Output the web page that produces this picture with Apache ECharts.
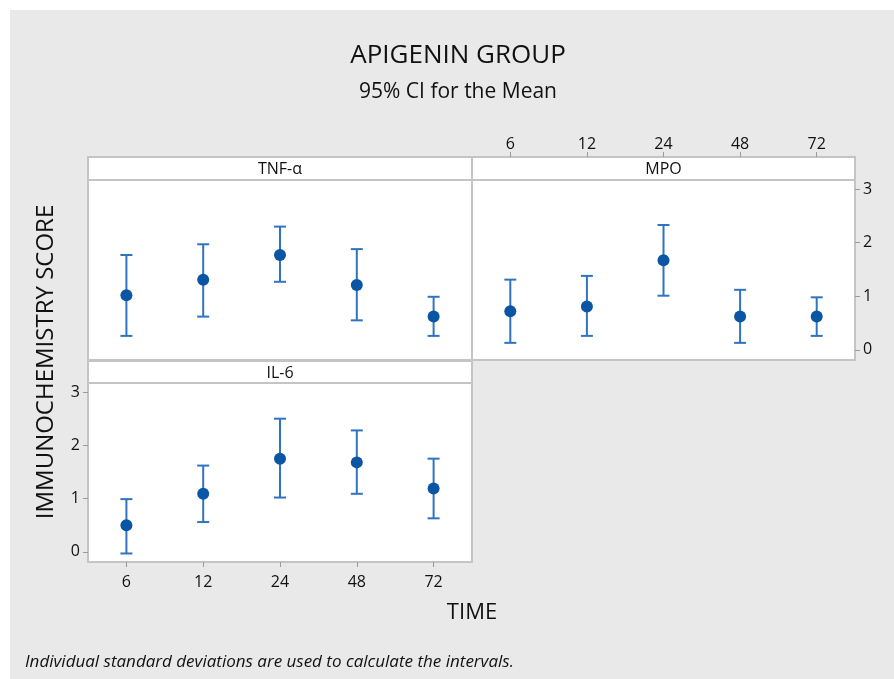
<!DOCTYPE html>
<html><head><meta charset="utf-8">
<script src="https://cdn.jsdelivr.net/npm/echarts@6/dist/echarts.min.js"></script>
<style>html,body{margin:0;padding:0;background:#fff}#c{width:894px;height:679px}</style>
</head><body><div id="c"></div>
<script>
const times = ['6','12','24','48','72'];
const yTicks = [0, 1, 2, 3];
const tnfMean = [1.02, 1.31, 1.77, 1.21, 0.62];
const tnfLow  = [0.26, 0.62, 1.27, 0.55, 0.26];
const tnfHigh = [1.77, 1.97, 2.30, 1.88, 0.99];
const mpoMean = [0.72, 0.81, 1.67, 0.62, 0.62];
const mpoLow  = [0.13, 0.26, 1.01, 0.13, 0.26];
const mpoHigh = [1.31, 1.38, 2.33, 1.12, 0.98];
const il6Mean = [0.50, 1.09, 1.75, 1.68, 1.19];
const il6Low  = [-0.03, 0.56, 1.02, 1.09, 0.63];
const il6High = [0.99, 1.62, 2.50, 2.28, 1.75];

const FONT = '"Open Sans", "Noto Sans", sans-serif';
const TXT = '#111';
const BAR = '#2f74c0';
const DOT = '#0b56a4';
const BORDER = '#c4c4c4';
const YMIN = -0.19, YMAX = 3.17;

function errRender(params, api) {
  const x = api.value(0), lo = api.value(1), hi = api.value(2);
  const p1 = api.coord([x, hi]), p2 = api.coord([x, lo]);
  const w = 6;
  const style = { stroke: BAR, lineWidth: 2, fill: null };
  return { type: 'group', children: [
    { type: 'line', shape: { x1: p1[0], y1: p1[1], x2: p2[0], y2: p2[1] }, style: style },
    { type: 'line', shape: { x1: p1[0] - w, y1: p1[1], x2: p1[0] + w, y2: p1[1] }, style: style },
    { type: 'line', shape: { x1: p2[0] - w, y1: p2[1], x2: p2[0] + w, y2: p2[1] }, style: style }
  ]};
}

const grids = [
  { left: 88, top: 180, width: 384, height: 180 },
  { left: 472, top: 180, width: 383, height: 180 },
  { left: 88, top: 383, width: 384, height: 179 }
].map(g => Object.assign(g, { show: true, backgroundColor: '#fff', borderColor: BORDER, borderWidth: 2 }));

const labelStyle = { color: TXT, fontSize: 16, fontFamily: FONT };
const tickStyle = { lineStyle: { color: '#9a9a9a', width: 1 }, length: 5 };

function xAxis(i, opts) {
  return Object.assign({
    type: 'category', gridIndex: i, data: times, boundaryGap: true,
    axisLine: { show: false, onZero: false }, splitLine: { show: false },
    axisTick: { show: false }, axisLabel: { show: false }
  }, opts || {});
}
function yAxis(i, opts) {
  return Object.assign({
    type: 'value', gridIndex: i, min: YMIN, max: YMAX,
    axisLine: { show: false, onZero: false }, splitLine: { show: false },
    axisTick: { show: false }, axisLabel: { show: false }
  }, opts || {});
}

const panels = [
  { mean: tnfMean, low: tnfLow, high: tnfHigh },
  { mean: mpoMean, low: mpoLow, high: mpoHigh },
  { mean: il6Mean, low: il6Low, high: il6High }
];
const series = [];
panels.forEach((p, i) => {
  series.push({
    type: 'custom', xAxisIndex: i, yAxisIndex: i, renderItem: errRender,
    encode: { x: 0, y: [1, 2] }, z: 3,
    data: times.map((t, k) => [k, p.low[k], p.high[k]])
  });
  series.push({
    type: 'scatter', xAxisIndex: i, yAxisIndex: i, symbol: 'circle', symbolSize: 12,
    itemStyle: { color: DOT, opacity: 1 }, z: 4,
    data: times.map((t, k) => [k, p.mean[k]])
  });
});

function strip(x, y, w, h, text) {
  return { type: 'group', children: [
    { type: 'rect', shape: { x: x, y: y, width: w, height: h },
      style: { fill: '#fff', stroke: BORDER, lineWidth: 2 } },
    { type: 'text', x: x + w / 2, y: y + h / 2 + 1,
      style: { text: text, fill: TXT, font: '16px ' + FONT, align: 'center', verticalAlign: 'middle' } }
  ]};
}

const chart = echarts.init(document.getElementById('c'), null, { renderer: 'canvas' });
chart.setOption({
  backgroundColor: '#e9e9e9',
  animation: false,
  grid: grids,
  xAxis: [
    xAxis(0),
    xAxis(1, { position: 'top', offset: 23,
      axisTick: Object.assign({ show: true, alignWithLabel: true }, tickStyle),
      axisLabel: Object.assign({ show: true, margin: 5 }, labelStyle) }),
    xAxis(2, {
      axisTick: Object.assign({ show: true, alignWithLabel: true }, tickStyle),
      axisLabel: Object.assign({ show: true, margin: 12 }, labelStyle) })
  ],
  yAxis: [
    yAxis(0),
    yAxis(1, { position: 'right',
      axisTick: Object.assign({ show: true, customValues: yTicks }, tickStyle),
      axisLabel: Object.assign({ show: true, margin: 8, customValues: yTicks }, labelStyle) }),
    yAxis(2, {
      axisTick: Object.assign({ show: true, customValues: yTicks }, tickStyle),
      axisLabel: Object.assign({ show: true, margin: 8, customValues: yTicks }, labelStyle) })
  ],
  graphic: [
    { type: 'rect', silent: true, shape: { x: 0, y: 0, width: 894, height: 10 }, style: { fill: '#fff' } },
    { type: 'rect', silent: true, shape: { x: 0, y: 0, width: 10, height: 679 }, style: { fill: '#fff' } },
    strip(88, 157, 384, 23, 'TNF-α'),
    strip(472, 157, 383, 23, 'MPO'),
    strip(88, 361, 384, 22, 'IL-6'),
    { type: 'text', x: 458, y: 56, style: { text: 'APIGENIN GROUP', fill: TXT, font: '26px ' + FONT, align: 'center', verticalAlign: 'middle' } },
    { type: 'text', x: 458, y: 92, style: { text: '95% CI for the Mean', fill: TXT, font: '21px ' + FONT, align: 'center', verticalAlign: 'middle' } },
    { type: 'text', x: 46, y: 362, rotation: Math.PI / 2, style: { text: 'IMMUNOCHEMISTRY SCORE', fill: TXT, font: '24px ' + FONT, align: 'center', verticalAlign: 'middle' } },
    { type: 'text', x: 472, y: 613, style: { text: 'TIME', fill: TXT, font: '22px ' + FONT, align: 'center', verticalAlign: 'middle' } },
    { type: 'text', x: 25, y: 662, style: { text: 'Individual standard deviations are used to calculate the intervals.', fill: TXT, font: 'italic 17px ' + FONT, align: 'left', verticalAlign: 'middle' } }
  ],
  series: series
});
</script></body></html>
